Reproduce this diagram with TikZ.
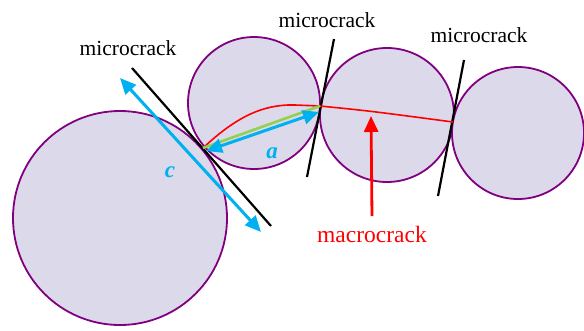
\documentclass[tikz,border=0pt]{standalone}
\usepackage{fontspec}
\setmainfont{Liberation Serif}
\usetikzlibrary{arrows.meta}
\definecolor{grainfill}{HTML}{DCDAEA}
\definecolor{grainedge}{HTML}{800080}
\definecolor{skyblue}{HTML}{00B0F0}
\definecolor{leafgreen}{HTML}{92D050}
\begin{document}
\begin{tikzpicture}[x=1pt,y=-1pt,
  grain/.style={circle,draw=grainedge,fill=grainfill,line width=1.8pt,inner sep=0pt},
  crackline/.style={draw=black,line width=2.2pt},
  lbl/.style={font=\fontsize{21.5}{24}\selectfont,text=black,inner sep=0pt},
  dimarrow/.style={draw=skyblue,line width=3pt,{Triangle[length=16pt,width=14pt]}-{Triangle[length=16pt,width=14pt]}},
  dimlbl/.style={font=\fontsize{23}{25}\selectfont\bfseries\itshape,text=skyblue,inner sep=0pt}]
\useasboundingbox (0,0) rectangle (584,330);
% grains
\node[grain,minimum size=214pt] (g1) at (120,218) {};
\node[grain,minimum size=132pt] (g2) at (254,103) {};
\node[grain,minimum size=134pt] (g3) at (387,115) {};
\node[grain,minimum size=132pt] (g4) at (518,133) {};
% contact points
\coordinate (p1) at (203,148);
\coordinate (p2) at (320,106);
\coordinate (p3) at (453,122);
% microcrack lines
\coordinate (m1a) at (132,68);  \coordinate (m1b) at (271,226);
\coordinate (m2a) at (334,39);  \coordinate (m2b) at (307,177);
\coordinate (m3a) at (464,60);  \coordinate (m3b) at (438,196);
\draw[crackline] (m1a) -- (m1b);
\draw[crackline] (m2a) -- (m2b);
\draw[crackline] (m3a) -- (m3b);
% labels
\node[lbl] (l1) at (128,48) {microcrack};
\node[lbl] (l2) at (327,20) {microcrack};
\node[lbl] (l3) at (479,35) {microcrack};
% macrocrack path
\draw[red,line width=1.6pt] (p1) .. controls (235,118) and (262,104) .. (295,105) -- (p2) .. controls (370,111) .. (p3);
% green chord
\draw[leafgreen,line width=2.6pt] (p1) -- (p2);
% dimension arrows
\coordinate (a1) at (206,151); \coordinate (a2) at (319,112);
\draw[dimarrow] (a1) -- (a2);
\node[dimlbl] (la) at (272,153) {a};
\coordinate (c1) at (120,78); \coordinate (c2) at (261,232);
\draw[dimarrow] (c1) -- (c2);
\node[dimlbl] (lc) at (170,172) {c};
% macrocrack label and arrow
\node[font=\fontsize{23.5}{26}\selectfont,text=red,inner sep=0pt] (mac) at (372,234) {macrocrack};
\coordinate (mtip) at (371,116);
\draw[red,line width=2.8pt,-{Triangle[length=16pt,width=14pt]}] (372,216) -- (mtip);
\end{tikzpicture}
\end{document}
